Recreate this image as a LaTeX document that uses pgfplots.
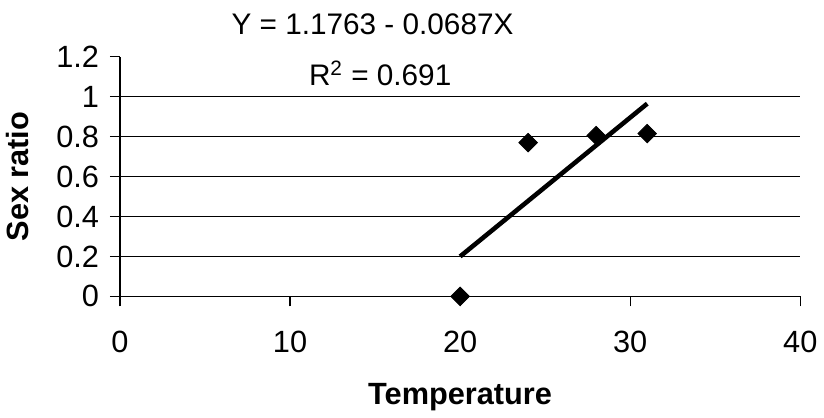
\documentclass[border=0pt]{standalone}
\usepackage{pgfplots}
\pgfplotsset{compat=1.18}
\usepackage{fontspec}
\setmainfont{Liberation Sans}
\begin{document}
\begin{tikzpicture}
\begin{axis}[
  scale only axis,
  width=342bp, height=120.5bp,
  xmin=0, xmax=40, ymin=0, ymax=1.2,
  axis x line*=bottom, axis y line*=left,
  axis line style={line width=0.7bp, -},
  xtick={0,10,20,30,40},
  ytick={0,0.2,0.4,0.6,0.8,1.0},
  extra y ticks={1.2},
  extra y tick style={grid=none},
  ymajorgrids,
  grid style={black, line width=0.5bp},
  tick align=outside,
  major tick length=5bp,
  tick style={black, line width=0.6bp},
  /pgf/number format/assume math mode=true,
  ticklabel style={font=\fontsize{15.5}{18}\selectfont},
  xticklabel style={yshift=-9bp},
  yticklabel style={xshift=-2bp},
  xlabel={\textbf{Temperature}},
  ylabel={\textbf{Sex ratio}},
  label style={font=\fontsize{15.5}{18}\selectfont},
  xlabel style={at={(axis description cs:0.5,-0.42)}, anchor=center},
  ylabel style={at={(axis description cs:-0.15,0.5)}, anchor=center},
  clip=false,
]
\addplot[only marks, mark=square*, mark size=3.3bp, mark options={rotate=45, fill=black, draw=black}]
  coordinates {(20,0) (24,0.77) (28,0.805) (31,0.815)};
\addplot[black, line width=2.3bp] coordinates {(20,0.2) (31,0.965)};
\node[font=\fontsize{15}{18}\selectfont] at (axis cs:14.85,1.364) {Y = 1.1763 - 0.0687X};
\node[font=\fontsize{15}{18}\selectfont] at (axis cs:15.3,1.115) {R$^{\mathrm{2}}$ = 0.691};
\end{axis}
\path (current axis.south west) ++(-60bp,-58bp) coordinate (bbl);
\path (current axis.north east) ++(10bp,28.5bp) coordinate (bbr);
\useasboundingbox (bbl) rectangle (bbr);
\end{tikzpicture}
\end{document}
